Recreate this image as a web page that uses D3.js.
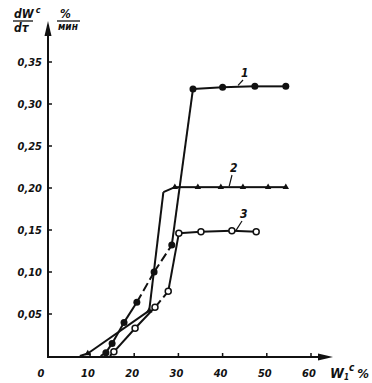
<!DOCTYPE html>
<html>
<head>
  <meta charset="utf-8">
  <script src="https://d3js.org/d3.v7.min.js"></script>
  <style>
    body { margin: 0; background: #fff; }
    text { font-family: "Liberation Sans Narrow", "DejaVu Sans Condensed", sans-serif; font-style: italic; font-weight: bold; fill: #111; }
  </style>
</head>
<body>
<script>
  // curve 1 - filled circles
  var curve1X = [12.4, 13.6, 15.0, 17.7, 20.6, 24.5, 28.5, 33.3, 40.0, 47.3, 54.3];
  var curve1Y = [0, 0.004, 0.015, 0.040, 0.064, 0.100, 0.132, 0.318, 0.320, 0.321, 0.321];
  var curve1Mark = [0, 1, 1, 1, 1, 1, 1, 1, 1, 1, 1];
  // curve 2 - small triangles
  var curve2X = [7.7, 9.5, 23.4, 26.6, 29.2, 34.4, 39.6, 44.6, 50.3, 54.3];
  var curve2Y = [0, 0.003, 0.054, 0.195, 0.201, 0.201, 0.201, 0.201, 0.201, 0.201];
  var curve2Mark = [0, 1, 1, 0, 1, 1, 1, 1, 1, 1];
  // curve 3 - open circles
  var curve3X = [14.5, 15.4, 20.2, 24.7, 27.7, 30.1, 35.1, 42.1, 47.6];
  var curve3Y = [0, 0.005, 0.033, 0.058, 0.077, 0.146, 0.148, 0.149, 0.148];
  var curve3Mark = [0, 1, 1, 1, 1, 1, 1, 1, 1];

  var yTicks = [0.05, 0.10, 0.15, 0.20, 0.25, 0.30, 0.35];
  var xTicks = [10, 20, 30, 40, 50, 60];

  var width = 372, height = 383;
  var svg = d3.select("body").append("svg")
    .attr("width", width).attr("height", height);

  var x = d3.scaleLinear().domain([0, 60]).range([45.8, 311]);
  var y = d3.scaleLinear().domain([0, 0.35]).range([356, 62]);

  var ax = 48, ay = 357;

  // axes
  svg.append("line").attr("x1", ax).attr("y1", ay).attr("x2", ax).attr("y2", 30)
    .attr("stroke", "#111").attr("stroke-width", 2);
  svg.append("path").attr("d", "M" + ax + ",21 L" + (ax - 3.5) + ",36 L" + (ax + 3.5) + ",36 Z").attr("fill", "#111");
  svg.append("line").attr("x1", ax - 1).attr("y1", ay).attr("x2", 322).attr("y2", ay)
    .attr("stroke", "#111").attr("stroke-width", 2);
  svg.append("path").attr("d", "M333," + ay + " L318," + (ay - 3.5) + " L318," + (ay + 3.5) + " Z").attr("fill", "#111");

  yTicks.forEach(function(t) {
    svg.append("line").attr("x1", ax).attr("x2", ax + 4).attr("y1", y(t)).attr("y2", y(t))
      .attr("stroke", "#111").attr("stroke-width", 1.5);
    svg.append("text").attr("x", 42).attr("y", y(t) + 4).attr("text-anchor", "end")
      .style("font-size", "11px").text(d3.format(".2f")(t).replace(".", ","));
  });
  xTicks.forEach(function(t) {
    svg.append("line").attr("x1", x(t)).attr("x2", x(t)).attr("y1", ay).attr("y2", ay - 4)
      .attr("stroke", "#111").attr("stroke-width", 1.5);
    svg.append("text").attr("x", x(t) - 2).attr("y", 377).attr("text-anchor", "middle")
      .style("font-size", "11px").text(t);
  });
  svg.append("text").attr("x", 41).attr("y", 377).attr("text-anchor", "middle")
    .style("font-size", "11px").text("0");

  // axis titles
  var yt = svg.append("text").attr("x", 14).attr("y", 18).style("font-size", "12px");
  yt.append("tspan").text("dW");
  yt.append("tspan").attr("dy", -5).attr("dx", 2).style("font-size", "9px").text("c");
  svg.append("line").attr("x1", 13).attr("x2", 33).attr("y1", 21).attr("y2", 21).attr("stroke", "#111").attr("stroke-width", 1.3);
  svg.append("text").attr("x", 14).attr("y", 32).style("font-size", "12px").text("dτ");
  svg.append("text").attr("x", 60).attr("y", 18).style("font-size", "12px").text("%");
  svg.append("line").attr("x1", 57).attr("x2", 80).attr("y1", 21).attr("y2", 21).attr("stroke", "#111").attr("stroke-width", 1.3);
  svg.append("text").attr("x", 58).attr("y", 30).style("font-size", "10px").text("мин");

  var xt = svg.append("text").attr("x", 330).attr("y", 378).style("font-size", "14px");
  xt.append("tspan").text("W");
  xt.append("tspan").attr("dy", 2).style("font-size", "8px").text("1");
  xt.append("tspan").attr("dy", -9).style("font-size", "10px").text("c");
  xt.append("tspan").attr("dy", 7).attr("dx", 3).style("font-size", "13px").text("%");

  function pts(xs, ys, ms) {
    return xs.map(function(v, i) { return {x: v, y: ys[i], m: ms[i]}; });
  }
  var line = d3.line().x(function(d) { return x(d.x); }).y(function(d) { return y(d.y); });

  function drawCurve(data, dashFrom, dashTo) {
    for (var i = 0; i < data.length - 1; i++) {
      var dashed = i >= dashFrom && i < dashTo;
      svg.append("path").attr("d", line([data[i], data[i + 1]]))
        .attr("fill", "none").attr("stroke", "#111").attr("stroke-width", 2)
        .attr("stroke-dasharray", dashed ? "9,4" : null);
    }
  }

  var c1 = pts(curve1X, curve1Y, curve1Mark);
  var c2 = pts(curve2X, curve2Y, curve2Mark);
  var c3 = pts(curve3X, curve3Y, curve3Mark);

  drawCurve(c1, 4, 6);
  drawCurve(c2, -1, -1);
  drawCurve(c3, 3, 4);

  svg.selectAll(".m1").data(c1.filter(function(d) { return d.m; })).enter().append("circle")
    .attr("cx", function(d) { return x(d.x); }).attr("cy", function(d) { return y(d.y); })
    .attr("r", 3.5).attr("fill", "#111");
  svg.selectAll(".m2").data(c2.filter(function(d) { return d.m; })).enter().append("path")
    .attr("transform", function(d) { return "translate(" + x(d.x) + "," + y(d.y) + ")"; })
    .attr("d", d3.symbol().type(d3.symbolTriangle).size(18)).attr("fill", "#111");
  svg.selectAll(".m3").data(c3.filter(function(d) { return d.m; })).enter().append("circle")
    .attr("cx", function(d) { return x(d.x); }).attr("cy", function(d) { return y(d.y); })
    .attr("r", 3).attr("fill", "#fff").attr("stroke", "#111").attr("stroke-width", 1.5);

  // curve labels with leader strokes
  var labels = [["1", 43.5, 0.321, 241, 77], ["2", 41.5, 0.201, 230, 172], ["3", 43.0, 0.148, 240, 218]];
  labels.forEach(function(l) {
    svg.append("line").attr("x1", x(l[1])).attr("y1", y(l[2]) - 1).attr("x2", l[3] + 2).attr("y2", l[4] + 3)
      .attr("stroke", "#111").attr("stroke-width", 1.2);
    svg.append("text").attr("x", l[3]).attr("y", l[4]).style("font-size", "12px").text(l[0]);
  });
</script>
</body>
</html>
